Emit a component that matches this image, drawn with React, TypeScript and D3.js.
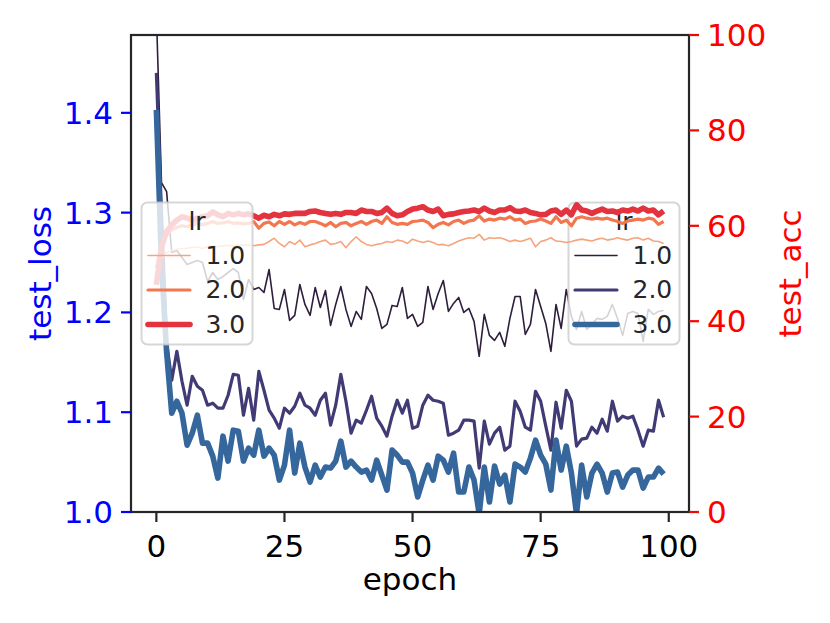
import * as d3 from 'd3'
import React from 'react';

// epochs are the array index
const lossLr1 = [1.50, 1.33, 1.321, 1.26, 1.262, 1.255, 1.248, 1.25, 1.252, 1.25, 1.231, 1.24, 1.233, 1.236, 1.24, 1.244, 1.24, 1.213, 1.233,
    1.223, 1.225, 1.220, 1.243, 1.204, 1.203, 1.223, 1.192, 1.197, 1.228, 1.208, 1.197, 1.225, 1.205, 1.222, 1.187, 1.208, 1.226, 1.203, 1.186,
    1.201, 1.193, 1.226, 1.219, 1.204, 1.184, 1.188, 1.207, 1.206, 1.225, 1.194, 1.198, 1.186, 1.190, 1.226, 1.203, 1.219, 1.232, 1.201, 1.209,
    1.215, 1.200, 1.204, 1.191, 1.156, 1.198, 1.177, 1.172, 1.180, 1.166, 1.194, 1.216, 1.216, 1.178, 1.188, 1.223, 1.206, 1.189, 1.161, 1.208,
    1.184, 1.223, 1.196, 1.183, 1.201, 1.183, 1.188, 1.194, 1.193, 1.196, 1.208, 1.194, 1.177, 1.199, 1.201, 1.199, 1.171, 1.203, 1.198, 1.201, 1.202]
const lossLr2 = [1.44, 1.30, 1.17, 1.132, 1.161, 1.131, 1.107, 1.136, 1.126, 1.122, 1.107, 1.109, 1.104, 1.104, 1.117, 1.138, 1.137, 1.097, 1.124,
    1.092, 1.141, 1.122, 1.102, 1.094, 1.084, 1.104, 1.099, 1.106, 1.119, 1.107, 1.104, 1.097, 1.112, 1.119, 1.087, 1.107, 1.138, 1.111, 1.079,
    1.092, 1.089, 1.102, 1.116, 1.094, 1.086, 1.076, 1.096, 1.112, 1.099, 1.112, 1.084, 1.086, 1.107, 1.117, 1.112, 1.111, 1.109, 1.077, 1.079,
    1.082, 1.092, 1.092, 1.091, 1.044, 1.091, 1.068, 1.079, 1.085, 1.062, 1.066, 1.111, 1.101, 1.085, 1.082, 1.121, 1.111, 1.086, 1.062, 1.110,
    1.084, 1.122, 1.111, 1.066, 1.073, 1.074, 1.085, 1.079, 1.093, 1.081, 1.111, 1.091, 1.096, 1.094, 1.096, 1.082, 1.066, 1.082, 1.081, 1.112, 1.095]
const lossLr3 = [1.403, 1.25, 1.16, 1.099, 1.111, 1.099, 1.067, 1.079, 1.097, 1.069, 1.069, 1.056, 1.034, 1.076, 1.051, 1.082, 1.081, 1.051, 1.064,
    1.057, 1.082, 1.056, 1.064, 1.057, 1.032, 1.047, 1.082, 1.039, 1.069, 1.045, 1.030, 1.047, 1.035, 1.045, 1.044, 1.051, 1.071, 1.045, 1.051,
    1.045, 1.040, 1.042, 1.032, 1.052, 1.037, 1.022, 1.062, 1.057, 1.050, 1.050, 1.039, 1.015, 1.032, 1.047, 1.032, 1.056, 1.052, 1.040, 1.059,
    1.020, 1.020, 1.045, 1.032, 0.998, 1.045, 1.010, 1.046, 1.028, 1.037, 1.010, 1.048, 1.045, 1.040, 1.054, 1.072, 1.057, 1.048, 1.022, 1.072,
    1.042, 1.066, 1.039, 0.998, 1.047, 1.015, 1.039, 1.048, 1.039, 1.020, 1.039, 1.040, 1.025, 1.037, 1.042, 1.042, 1.024, 1.035, 1.035, 1.044, 1.038]

const accLr1 = [50.4, 53.2, 54.4, 54.8, 55.1, 55.2, 55.3, 55.5, 55.5, 55.3, 55.6, 55.8, 55.6, 55.8, 55.9, 55.8, 56.0, 55.9, 56.0,
    55.8, 56.0, 56.1, 56.7, 57.4, 56.3, 55.6, 56.7, 56.1, 57.0, 55.6, 56.0, 56.3, 56.7, 57.0, 56.1, 56.3, 56.7, 55.4, 56.7, 57.7,
    56.7, 56.1, 55.8, 56.1, 56.3, 56.7, 56.5, 57.0, 56.8, 56.3, 57.2, 56.8, 56.5, 56.8, 56.5, 56.0, 56.1, 55.8, 56.3, 56.8,
    57.2, 57.5, 57.4, 58.2, 57.0, 57.5, 57.4, 57.5, 57.2, 56.7, 57.0, 56.7, 57.0, 57.4, 55.6, 56.7, 57.0, 57.5, 56.8, 56.7,
    56.5, 56.7, 57.0, 57.2, 57.0, 56.8, 57.2, 57.4, 57.0, 57.2, 57.5, 57.2, 57.0, 57.4, 57.5, 57.0, 57.4, 56.8, 56.7, 56.3]
const accLr2 = [51.1, 56.3, 58.1, 59.1, 59.7, 60.0, 59.8, 60.2, 60.5, 60.2, 60.5, 60.9, 60.5, 60.6, 60.9, 60.5, 60.6, 60.4, 60.5,
    60.9, 59.5, 60.5, 60.8, 60.0, 60.9, 60.3, 60.9, 60.2, 60.7, 60.3, 60.9, 60.9, 60.5, 60.0, 60.7, 59.8, 60.5, 60.7, 60.0, 60.5,
    60.9, 60.3, 60.9, 61.2, 60.5, 61.9, 60.7, 60.3, 60.5, 60.3, 60.9, 61.0, 61.2, 60.7, 59.6, 60.3, 60.7, 60.2, 60.9, 61.2,
    60.5, 61.0, 61.2, 62.1, 61.0, 61.4, 61.2, 61.6, 61.4, 61.9, 61.2, 61.4, 60.5, 60.9, 61.0, 61.4, 61.0, 60.5, 61.9, 60.7,
    61.2, 60.0, 61.6, 61.9, 61.6, 61.4, 61.6, 61.4, 61.6, 61.2, 60.9, 60.5, 61.0, 61.2, 61.4, 61.2, 61.6, 61.4, 60.3, 60.9]
const accLr3 = [47.6, 55.6, 58.8, 60.2, 61.2, 61.9, 61.6, 61.2, 61.6, 61.9, 62.1, 62.9, 62.3, 61.9, 62.6, 62.3, 62.6, 62.3, 62.5,
    62.1, 61.6, 62.2, 61.9, 62.4, 62.1, 62.5, 62.4, 62.6, 62.6, 62.6, 63.0, 63.1, 62.8, 62.6, 62.4, 62.6, 62.4, 62.8, 62.8, 62.6,
    63.3, 63.0, 63.0, 62.6, 62.8, 63.7, 62.6, 62.1, 62.3, 63.0, 63.5, 63.7, 64.0, 63.3, 63.0, 63.5, 62.1, 62.4, 62.5, 62.8,
    63.0, 63.1, 63.3, 63.0, 63.7, 63.1, 62.8, 63.3, 63.3, 63.8, 63.1, 63.0, 63.3, 62.8, 62.6, 62.3, 62.4, 63.1, 63.3, 62.4,
    63.3, 62.3, 64.4, 63.3, 63.1, 62.6, 63.1, 63.5, 63.0, 63.1, 62.8, 63.3, 63.1, 63.5, 63.1, 63.7, 63.1, 63.3, 62.3, 63.1]

const lrLabels = ['1.0', '2.0', '3.0']
const xTicks = [0, 25, 50, 75, 100]
const lossTicks = [1.0, 1.1, 1.2, 1.3, 1.4]
const accTicks = [0, 20, 40, 60, 80, 100]

const lossColors = ['#2e1e3b', '#403a75', '#35679d']
const accColors = ['#f6a47c', '#f3764f', '#e2333f']
const widths = [1.6, 3.2, 5.6]

const W = 830, H = 623
const L = 131, R = 689, T = 35, B = 512
const font = 'DejaVu Sans'
const tickFs = 31, legFs = 25

const x = d3.scaleLinear().domain([-4.95, 103.95]).range([L, R])
const yLoss = d3.scaleLinear().domain([1.0, 1.478]).range([B, T])
const yAcc = d3.scaleLinear().domain([0, 100]).range([B, T])

const lineOf = (y: d3.ScaleLinear<number, number>) => d3.line<number>()
    .x((d, i) => x(i))
    .y(d => y(d))

const Legend = ({ left, colors }: { left: number, colors: string[] }) => {
    const top = 202.5
    return (
        <g>
            <rect x={left} y={top} width={111} height={142} rx={6} fill="#ffffff" fillOpacity={0.8}
                stroke="#cccccc" strokeOpacity={0.8} strokeWidth={2} />
            <text x={left + 55.5} y={top + 27} fontSize={legFs} textAnchor="middle" fill="#262626">lr</text>
            {lrLabels.map((lab, i) => {
                const base = top + 61 + i * 34.5
                return (
                    <g key={lab}>
                        <line x1={left + 6.5} x2={left + 48.5} y1={base - 8} y2={base - 8}
                            stroke={colors[i]} strokeWidth={widths[i]} strokeLinecap="round" />
                        <text x={left + 64} y={base} fontSize={legFs} fill="#262626">{lab}</text>
                    </g>
                )
            })}
        </g>
    )
}

export default function App() {
    const lossSeries = [lossLr1, lossLr2, lossLr3]
    const accSeries = [accLr1, accLr2, accLr3]
    return (
        <div style={{ position: 'absolute', left: 0, top: 0 }}>
            <svg width={W} height={H} style={{ display: 'block', background: '#fff' }} fontFamily={font}>
                <defs>
                    <clipPath id="plot">
                        <rect x={L} y={T} width={R - L} height={B - T} />
                    </clipPath>
                </defs>
                <g clipPath="url(#plot)">
                    {lossSeries.map((s, i) => (
                        <path key={'l' + i} d={lineOf(yLoss)(s) || ''} fill="none" stroke={lossColors[i]}
                            strokeWidth={widths[i]} strokeLinejoin="round" />
                    ))}
                </g>
                <Legend left={568.5} colors={lossColors} />
                <g clipPath="url(#plot)">
                    {accSeries.map((s, i) => (
                        <path key={'a' + i} d={lineOf(yAcc)(s) || ''} fill="none" stroke={accColors[i]}
                            strokeWidth={widths[i]} strokeLinejoin="round" />
                    ))}
                </g>
                <Legend left={141.5} colors={accColors} />

                {/* spines */}
                <rect x={L} y={T} width={R - L} height={B - T} fill="none" stroke="#262626" strokeWidth={2.2} />

                {/* x axis */}
                {xTicks.map(t => (
                    <g key={'x' + t}>
                        <line x1={x(t)} x2={x(t)} y1={B} y2={B + 10} stroke="#262626" strokeWidth={2.2} />
                        <text x={x(t)} y={557} fontSize={tickFs} textAnchor="middle" fill="#000">{t}</text>
                    </g>
                ))}
                <text x={(L + R) / 2} y={590} fontSize={tickFs} textAnchor="middle" fill="#000">epoch</text>

                {/* left axis */}
                {lossTicks.map(t => (
                    <g key={'ly' + t}>
                        <line x1={L - 10} x2={L} y1={yLoss(t)} y2={yLoss(t)} stroke="blue" strokeWidth={2.2} />
                        <text x={L - 18} y={yLoss(t) + 11} fontSize={tickFs} textAnchor="end" fill="blue">{t.toFixed(1)}</text>
                    </g>
                ))}
                <text transform={`translate(51 ${(T + B) / 2}) rotate(-90)`} fontSize={tickFs} textAnchor="middle" fill="blue">test_loss</text>

                {/* right axis */}
                {accTicks.map(t => (
                    <g key={'ry' + t}>
                        <line x1={R} x2={R + 10} y1={yAcc(t)} y2={yAcc(t)} stroke="red" strokeWidth={2.2} />
                        <text x={R + 18} y={yAcc(t) + 11} fontSize={tickFs} textAnchor="start" fill="red">{t}</text>
                    </g>
                ))}
                <text transform={`translate(801 ${(T + B) / 2}) rotate(-90)`} fontSize={tickFs} textAnchor="middle" fill="red">test_acc</text>
            </svg>
        </div>
    )
}
